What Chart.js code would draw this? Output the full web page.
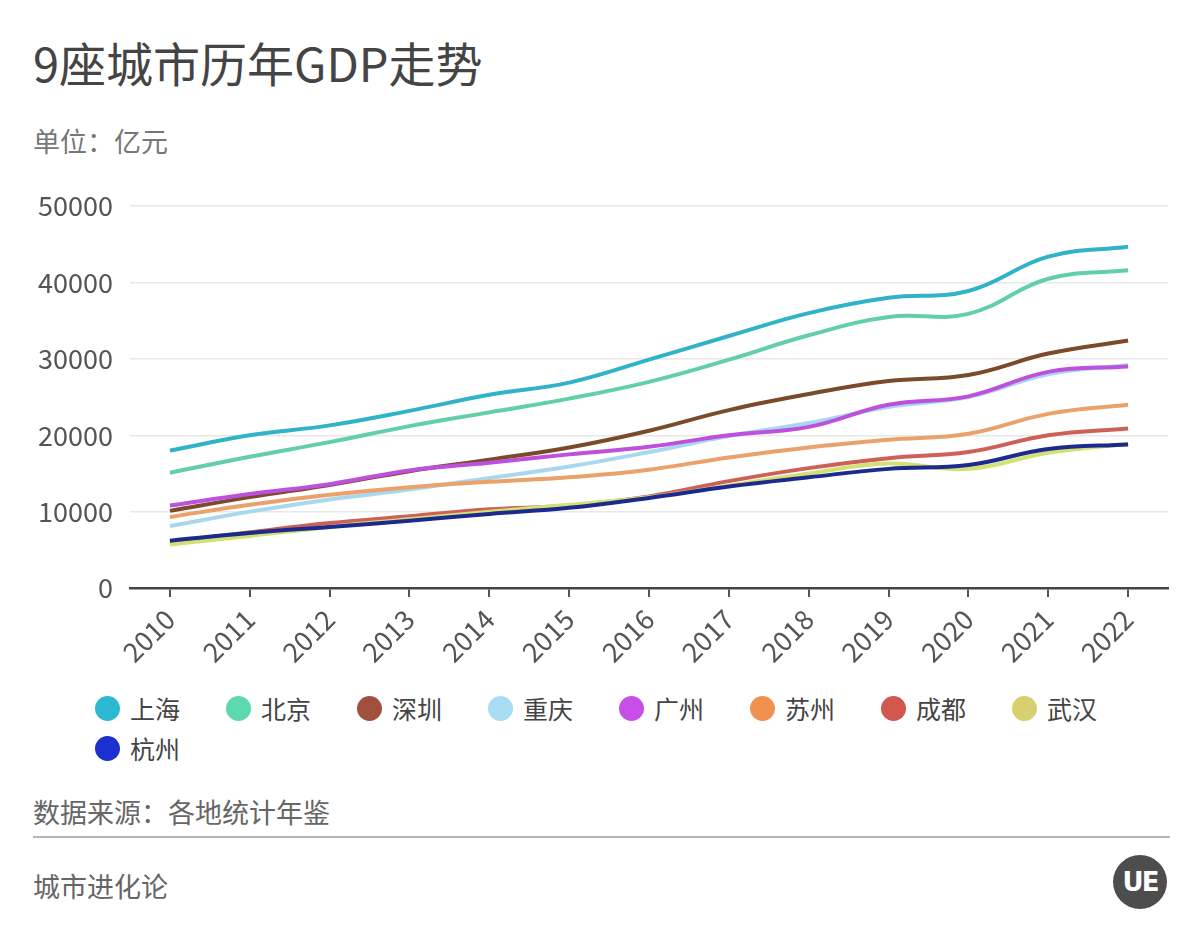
<!DOCTYPE html>
<html>
<head>
<meta charset="utf-8">
<script src="https://cdn.jsdelivr.net/npm/chart.js@4.4.0/dist/chart.umd.min.js"></script>
<style>
  html, body { margin: 0; padding: 0; background: #fff; }
  body { width: 1200px; height: 940px; position: relative; overflow: hidden; font-family: "Noto Sans CJK SC", "Noto Sans", sans-serif; }
  .title { position: absolute; left: 33px; top: 32px; font-size: 47px; color: #444; line-height: 60px; }
  .unit { position: absolute; left: 33px; top: 123px; font-size: 27px; color: #777; line-height: 36px; }
  #chartWrap { position: absolute; left: 0; top: 173px; width: 1200px; height: 507px; }
  #legend { position: absolute; left: 95px; top: 688px; width: 1100px; display: flex; flex-wrap: wrap; }
  .item { width: 131px; height: 40px; display: flex; align-items: center; font-size: 25px; color: #444; }
  .dot { width: 25px; height: 25px; border-radius: 50%; margin-right: 10px; flex: none; }
  .source { position: absolute; left: 33px; top: 794px; font-size: 27px; color: #666; line-height: 36px; }
  .rule { position: absolute; left: 33px; top: 836px; width: 1137px; height: 2px; background: #b5b5b5; }
  .brand { position: absolute; left: 33px; top: 868px; font-size: 27px; color: #666; line-height: 36px; }
  .logo { position: absolute; left: 1113px; top: 855px; width: 54px; height: 54px; border-radius: 50%; background: #4d4d4d; color: #fff; font: bold 26px "DejaVu Sans", sans-serif; text-align: center; line-height: 54px; letter-spacing: -2px; }
</style>
</head>
<body>
<div class="title">9座城市历年GDP走势</div>
<div class="unit">单位：亿元</div>
<div id="chartWrap"><canvas id="gdpChart" width="1200" height="507"></canvas></div>
<div id="legend"></div>
<div class="source">数据来源：各地统计年鉴</div>
<div class="rule"></div>
<div class="brand">城市进化论</div>
<div class="logo">UE</div>

<script>
// 年份
const years = ['2010', '2011', '2012', '2013', '2014', '2015', '2016', '2017', '2018', '2019', '2020', '2021', '2022'];

// 城市
const cities = ['上海', '北京', '深圳', '重庆', '广州', '苏州', '成都', '武汉', '杭州'];

// 各城市GDP（亿元）
const shanghai  = [18000, 20000, 21300, 23200, 25300, 26900, 29900, 33000, 36000, 38000, 38900, 43400, 44700];
const beijing   = [15100, 17200, 19100, 21200, 23000, 24800, 27000, 29900, 33100, 35500, 35900, 40500, 41600];
const shenzhen  = [10100, 11900, 13500, 15300, 16800, 18400, 20600, 23300, 25400, 27100, 27900, 30700, 32400];
const chongqing = [8100, 10000, 11600, 12900, 14400, 15900, 17800, 19900, 21600, 23700, 25000, 28000, 29200];
const guangzhou = [10800, 12300, 13600, 15400, 16400, 17500, 18500, 20000, 21100, 24000, 25100, 28300, 29000];
const suzhou    = [9300, 10900, 12200, 13200, 13900, 14500, 15500, 17100, 18400, 19400, 20200, 22800, 24000];
const chengdu   = [6000, 7300, 8500, 9400, 10300, 10800, 12000, 14000, 15700, 17000, 17800, 20000, 20900];
const wuhan     = [5700, 6800, 8000, 9000, 10000, 10900, 11900, 13400, 15000, 16300, 15600, 17700, 18900];
const hangzhou  = [6200, 7200, 8000, 8800, 9700, 10500, 11800, 13300, 14500, 15600, 16100, 18200, 18800];

const series = [shanghai, beijing, shenzhen, chongqing, guangzhou, suzhou, chengdu, wuhan, hangzhou];

const lineColors = ['#30b3c9', '#62cfa9', '#7b4a2b', '#a9d8ee', '#bd50dc', '#eba26a', '#cd615a', '#d3e072', '#1c2a8e'];
const legendColors = ['#2bb8d0', '#5dd8b0', '#a0503c', '#a8dcf2', '#c84ee8', '#f0914f', '#d0584c', '#d8d070', '#1a30d0'];

Chart.defaults.font.family = '"Noto Sans CJK SC", "Noto Sans", sans-serif';

const datasets = cities.map((name, i) => ({
    label: name,
    data: series[i],
    borderColor: lineColors[i],
    backgroundColor: lineColors[i],
    borderWidth: 4,
    pointRadius: 0,
    tension: 0.4,
    fill: false,
    order: cities.length - i   // 后面的城市画在上层
}));

new Chart(document.getElementById('gdpChart'), {
    type: 'line',
    data: { labels: years, datasets },
    options: {
        responsive: false,
        animation: false,
        layout: { padding: { top: 20, right: 32, left: 0, bottom: 0 } },
        plugins: {
            legend: { display: false },
            tooltip: { enabled: false }
        },
        scales: {
            x: {
                offset: true,
                grid: { drawOnChartArea: false, drawTicks: true, tickLength: 9, color: '#555', lineWidth: 2 },
                border: { display: true, color: '#444', width: 2.5 },
                ticks: { autoSkip: false, maxRotation: 45, minRotation: 45, color: '#555', font: { size: 27 }, padding: 6 },
                afterFit: s => { s.height = 92; }
            },
            y: {
                min: 0,
                max: 50000,
                ticks: { stepSize: 10000, color: '#555', font: { size: 27 }, padding: 17, callback: v => String(v) },
                grid: { color: '#e8e8e8', lineWidth: 1.5, drawTicks: false },
                border: { display: false },
                afterFit: s => { s.width = 130; }
            }
        }
    }
});

// 图例
const legend = document.getElementById('legend');
cities.forEach((name, i) => {
    const el = document.createElement('div');
    el.className = 'item';
    el.innerHTML = `<span class="dot" style="background:${legendColors[i]}"></span>${name}`;
    legend.appendChild(el);
});
</script>
</body>
</html>
